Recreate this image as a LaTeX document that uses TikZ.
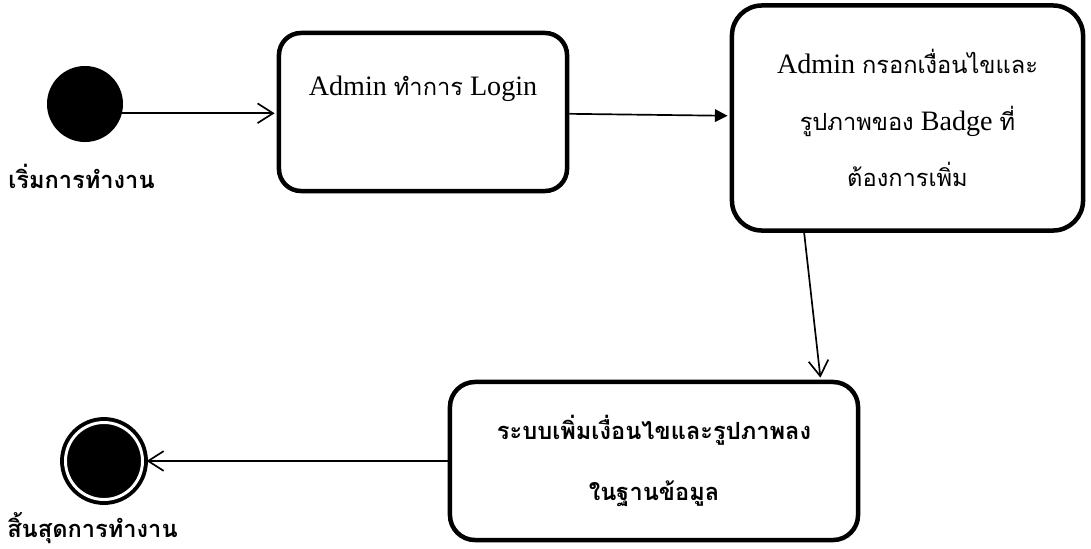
\documentclass[tikz,border=0pt]{standalone}
\usepackage{fontspec}
\setmainfont{Liberation Serif}
\newfontfamily\thaifont[Script=Thai,Scale=0.84]{Loma}
\newcommand{\thtxt}[1]{{\thaifont #1}}
\usetikzlibrary{arrows.meta}

\begin{document}
\begin{tikzpicture}[x=0.025cm,y=-0.025cm,font=\fontsize{20}{40}\selectfont,
	action node/.style={rectangle,draw,line width=3.2pt,rounded corners=0.6cm,align=center,inner sep=0pt},
	start node/.style={circle,fill=black,minimum size=1.9cm,inner sep=0pt},
	end node/.style={circle,draw,fill=black,line width=2.8pt,double=white,double distance=2.1pt,minimum size=1.925cm,inner sep=0pt},
	caption node/.style={font=\fontsize{20}{24}\selectfont\bfseries,inner sep=0pt},
	flow/.style={line width=1.2pt,shorten >=1.5pt,-{Straight Barb[length=11pt,width=14pt,line width=1.2pt]}},
	flow filled/.style={line width=1.2pt,shorten >=1.5pt,-{Triangle[length=9pt,width=9pt]}}]
	
	\useasboundingbox (0,0) rectangle (1091,548);
	
	\node[start node] (start) at (85,104) {};
	\node[caption node,anchor=base west] (startlbl) at (8,188) {\thtxt{เริ่มการทำงาน}};
	
	\node[action node,minimum width=7.2cm,minimum height=3.95cm,rounded corners=0.55cm,text height=12pt,text depth=36pt] (login) at (423,112) {Admin \thtxt{ทำการ} Login};
	\node[action node,minimum width=8.775cm,minimum height=5.625cm,rounded corners=0.75cm] (badge) at (907.5,118) {Admin \thtxt{กรอกเงื่อนไขและ}\\ \thtxt{รูปภาพของ} Badge \thtxt{ที่}\\ \thtxt{ต้องการเพิ่ม}};
	\node[action node,minimum width=10.2cm,minimum height=3.95cm,rounded corners=0.625cm,font=\fontsize{20}{43}\selectfont\bfseries] (addsys) at (654,461) {\thtxt{ระบบเพิ่มเงื่อนไขและรูปภาพลง}\\ \thtxt{ในฐานข้อมูล}};
	
	\node[end node] (endst) at (104,461) {};
	\node[caption node,anchor=base west] (endlbl) at (7,537) {\thtxt{สิ้นสุดการทำงาน}};
	
	\draw[flow] (start.-14) -- (start.-14 -| login.west);
	\draw[flow filled] (login) -- (badge);
	\draw[flow] (badge.228.2) -- (addsys.26.4);
	\draw[flow] (addsys) -- (endst);
	
\end{tikzpicture}
\end{document}
